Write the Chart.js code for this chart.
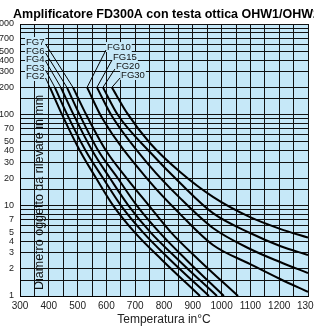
<!DOCTYPE html>
<html>
<head>
<meta charset="utf-8">
<script src="https://cdn.jsdelivr.net/npm/chart.js@4.4.0/dist/chart.umd.min.js"></script>
<style>
  html, body { margin: 0; padding: 0; background: #fff; }
  #wrap { width: 314px; height: 327px; }
</style>
</head>
<body>
<div id="wrap"><canvas id="chart" width="314" height="327"></canvas></div>
<script>
// curve names (left group then right group)
const seriesNames = ['FG2', 'FG3', 'FG4', 'FG6', 'FG7', 'FG10', 'FG15', 'FG20', 'FG30'];

// temperature (°C) / diameter (mm)
const fg2T  = [404, 446, 508, 564, 623, 699, 793, 925];
const fg2V  = [200, 100, 40, 20, 10, 5, 2.5, 1];
const fg3T  = [421, 464, 528, 588, 650, 728, 822, 956];
const fg3V  = [200, 100, 40, 20, 10, 5, 2.5, 1];
const fg4T  = [442, 486, 551, 612, 676, 754, 850, 984];
const fg4V  = [200, 100, 40, 20, 10, 5, 2.5, 1];
const fg6T  = [463, 507, 572, 639, 705, 785, 878, 1008];
const fg6V  = [200, 100, 40, 20, 10, 5, 2.5, 1];
const fg7T  = [484, 530, 599, 670, 747, 825, 921, 1057];
const fg7V  = [200, 100, 40, 20, 10, 5, 2.5, 1];
const fg10T = [533, 585, 751, 856, 970, 1099, 1203, 1300];
const fg10V = [200, 91.9, 18.1, 8.0, 3.65, 2.25, 1.54, 1.11];
const fg15T = [567, 619, 751, 856, 970, 1099, 1203, 1300];
const fg15V = [200, 96.7, 27.1, 12.0, 5.62, 3.3, 2.37, 1.79];
const fg20T = [588, 640, 751, 856, 970, 1099, 1203, 1300];
const fg20V = [200, 99, 38.7, 17.6, 8.2, 4.95, 3.56, 2.83];
const fg30T = [619, 672, 751, 856, 970, 1099, 1203, 1300];
const fg30V = [200, 104, 48.7, 23.3, 12.4, 7.4, 5.5, 4.4];

// axis ticks
const xGridValues = [300, 350, 400, 450, 500, 550, 600, 650, 700, 750, 800, 850, 900, 950, 1000, 1050, 1100, 1150, 1200, 1250, 1300];
const xTickLabels = [300, 400, 500, 600, 700, 800, 900, 1000, 1100, 1200, 1300];
const yGridValues = [1, 1.5, 2, 3, 4, 5, 6, 7, 8, 9, 10, 15, 20, 30, 40, 50, 60, 70, 80, 90, 100, 150, 200, 300, 400, 500, 600, 700, 800, 900, 1000];
const yTickLabels = [1, 2, 3, 4, 5, 7, 10, 20, 30, 40, 50, 70, 100, 200, 300, 400, 500, 700, 1000];

// where the curve names sit (temperature, diameter)
const labelT = [321, 321, 321, 321, 321, 602, 623, 633, 651];
const labelV = [267, 327, 411, 504, 633, 557, 432, 344, 274];

const curveT = [fg2T, fg3T, fg4T, fg6T, fg7T, fg10T, fg15T, fg20T, fg30T];
const curveV = [fg2V, fg3V, fg4V, fg6V, fg7V, fg10V, fg15V, fg20V, fg30V];

const FONT = "'Liberation Sans', Arial, sans-serif";
const PLOT_BG = '#c6e8f8';

const datasets = seriesNames.map((name, i) => ({
    label: name,
    data: curveT[i].map((t, j) => ({ x: t, y: curveV[i][j] })),
    borderColor: '#000',
    borderWidth: 2,
    pointRadius: 0,
    fill: false,
    cubicInterpolationMode: 'monotone'
}));

const bgPlugin = {
    id: 'plotBg',
    beforeDraw(chart) {
        const { ctx, chartArea: a } = chart;
        ctx.save();
        ctx.fillStyle = PLOT_BG;
        ctx.fillRect(a.left, a.top, a.right - a.left, a.bottom - a.top);
        ctx.restore();
    }
};

const textPlugin = {
    id: 'texts',
    afterDatasetsDraw(chart) {
        const { ctx, scales: { x, y } } = chart;
        ctx.save();

        // y axis title inside the plot
        ctx.font = '12.5px ' + FONT;
        ctx.fillStyle = '#111';
        ctx.translate(43, 290);
        ctx.rotate(-Math.PI / 2);
        ctx.textBaseline = 'alphabetic';
        ctx.textAlign = 'left';
        ctx.fillText('Diametro oggetto da rilevare in mm', 0, 0);
        ctx.setTransform(1, 0, 0, 1, 0, 0);

        // curve names with leader lines
        ctx.font = '9.5px ' + FONT;
        ctx.textBaseline = 'middle';
        ctx.lineWidth = 1;
        ctx.strokeStyle = '#000';
        seriesNames.forEach((name, i) => {
            const lx = x.getPixelForValue(labelT[i]);
            const ly = y.getPixelForValue(labelV[i]);
            const w = ctx.measureText(name).width;
            const sx = x.getPixelForValue(curveT[i][0]);
            const sy = y.getPixelForValue(curveV[i][0]);
            ctx.fillStyle = PLOT_BG;
            ctx.fillRect(lx - 1, ly - 5, w + 2, 10);
            ctx.fillStyle = '#111';
            ctx.textAlign = 'left';
            ctx.fillText(name, lx, ly);
            ctx.beginPath();
            if (i < 5) {
                ctx.moveTo(lx + w + 1, ly + 2);
            } else {
                ctx.moveTo(lx - 1, ly + 3);
            }
            ctx.lineTo(sx, sy);
            ctx.stroke();
        });

        ctx.restore();
    },
    afterDraw(chart) {
        const { ctx } = chart;
        ctx.save();
        ctx.font = 'bold 12.5px ' + FONT;
        ctx.fillStyle = '#000';
        ctx.textAlign = 'left';
        ctx.textBaseline = 'alphabetic';
        ctx.fillText('Amplificatore FD300A con testa ottica OHW1/OHW2', 13, 18);
        ctx.restore();
    }
};

new Chart(document.getElementById('chart'), {
    type: 'line',
    data: { datasets },
    options: {
        responsive: false,
        animation: false,
        layout: { padding: { top: 24, left: 0, right: 6, bottom: 0 } },
        plugins: {
            legend: { display: false },
            tooltip: { enabled: false }
        },
        scales: {
            x: {
                type: 'linear', min: 300, max: 1300,
                afterBuildTicks: (s) => { s.ticks = xGridValues.map((v) => ({ value: v })); },
                afterFit: (s) => { s.height = 31; s.paddingLeft = 0; s.paddingRight = 0; },
                grid: { color: '#111', lineWidth: 1, drawTicks: false },
                border: { color: '#000', width: 1 },
                ticks: {
                    autoSkip: false, maxRotation: 0, padding: 4, color: '#222',
                    font: { family: FONT, size: 10 },
                    callback: (v) => xTickLabels.includes(v) ? String(v) : ''
                },
                title: {
                    display: true, text: 'Temperatura in°C', color: '#222',
                    font: { family: FONT, size: 12 }, padding: { top: 0, bottom: 0 }
                }
            },
            y: {
                type: 'logarithmic', min: 1, max: 1000,
                afterBuildTicks: (s) => { s.ticks = yGridValues.map((v) => ({ value: v })); },
                afterFit: (s) => { s.width = 20; s.paddingTop = 0; s.paddingBottom = 0; },
                grid: { color: '#111', lineWidth: 1, drawTicks: false },
                border: { color: '#000', width: 1 },
                ticks: {
                    autoSkip: false, padding: 6, color: '#222',
                    font: { family: FONT, size: 9 },
                    callback: (v) => yTickLabels.includes(v) ? String(v) : ''
                }
            }
        }
    },
    plugins: [bgPlugin, textPlugin]
});
</script>
</body>
</html>
